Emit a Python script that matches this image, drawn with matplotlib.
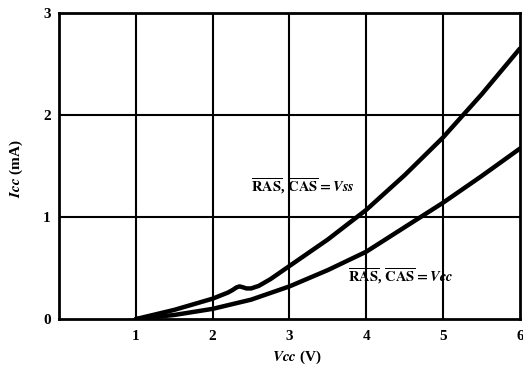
import matplotlib
matplotlib.use('Agg')
import matplotlib.pyplot as plt
import numpy as np

plt.rcParams['font.family'] = ['Liberation Serif', 'DejaVu Serif']
plt.rcParams['font.weight'] = 'bold'
plt.rcParams['mathtext.fontset'] = 'stix'

# RAS, CAS = Vss curve (with the small bump near 2.35 V)
vcc_ss = [1.0, 1.5, 2.0, 2.2, 2.26, 2.31, 2.35, 2.39, 2.44, 2.5, 2.6, 2.75, 3.0,
          3.5, 4.0, 4.5, 5.0, 5.5, 6.0]
icc_ss = [0.0, 0.09, 0.2, 0.26, 0.285, 0.31, 0.32, 0.312, 0.30, 0.30, 0.325, 0.39, 0.52,
          0.78, 1.07, 1.41, 1.78, 2.2, 2.65]

# RAS, CAS = Vcc curve
vcc_cc = [1.0, 1.5, 2.0, 2.5, 3.0, 3.5, 4.0, 4.5, 5.0, 5.5, 6.0]
icc_cc = [0.0, 0.04, 0.1, 0.19, 0.32, 0.48, 0.66, 0.9, 1.14, 1.4, 1.67]

x_ticks = [1, 2, 3, 4, 5, 6]
y_ticks = [0, 1, 2, 3]

fig = plt.figure(figsize=(5.23, 3.68), dpi=100)
ax = fig.add_axes([0.113, 0.133, 0.881, 0.832])

for xt in x_ticks[:-1]:
    ax.axvline(xt, color='black', lw=1.5, zorder=1)
for yt in y_ticks[1:-1]:
    ax.axhline(yt, color='black', lw=1.5, zorder=1)

ax.plot(vcc_ss, icc_ss, color='black', lw=3.2, solid_capstyle='round',
        solid_joinstyle='round', zorder=3)
ax.plot(vcc_cc, icc_cc, color='black', lw=3.2, solid_capstyle='round',
        solid_joinstyle='round', zorder=3)

ax.set_xlim(0, 6)
ax.set_ylim(0, 3)
ax.set_xticks(x_ticks)
ax.set_yticks(y_ticks)
ax.tick_params(length=0, labelsize=11)
ax.tick_params(axis='x', pad=8)
ax.tick_params(axis='y', pad=6)
for lab in ax.get_xticklabels() + ax.get_yticklabels():
    lab.set_fontweight('bold')
for sp in ax.spines.values():
    sp.set_linewidth(2)

ax.text(2.5, 1.3, r'$\overline{\mathbf{RAS}}$, $\overline{\mathbf{CAS}} = Vss$',
        fontsize=10.5, ha='left', va='center', zorder=4)
ax.text(3.76, 0.42, r'$\overline{\mathbf{RAS}}$, $\overline{\mathbf{CAS}} = Vcc$',
        fontsize=10.5, ha='left', va='center', zorder=4)

fig.text(0.568, 0.03, r'$Vcc$ (V)', fontsize=11, ha='center', va='center')
fig.text(0.031, 0.543, r'$Icc$ (mA)', fontsize=11, ha='center', va='center',
         rotation=90)

fig.savefig('out.png', dpi=100)
